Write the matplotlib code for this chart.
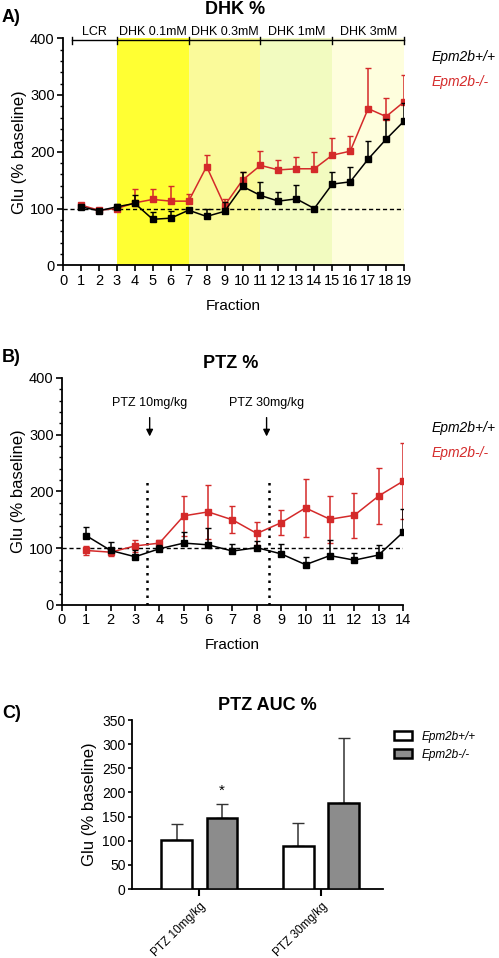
import numpy as np
import matplotlib
matplotlib.use("Agg")
import matplotlib.pyplot as plt
from matplotlib.ticker import MultipleLocator

plt.rcParams['font.family'] = ['Liberation Sans', 'DejaVu Sans']

RED = "#d42a2a"

# ---- panel A: DHK % ----
dhk_frac = np.arange(1, 20)
dhk_wt = [103, 96, 103, 109, 81, 83, 97, 86, 95, 139, 123, 113, 117, 100, 143, 147, 187, 222, 254]
dhk_wt_err = [4, 2, 5, 14, 12, 13, 3, 14, 16, 26, 23, 16, 24, 3, 21, 27, 32, 36, 31]
dhk_ko = [106, 97, 100, 110, 116, 113, 113, 174, 105, 150, 176, 168, 170, 170, 194, 201, 276, 262, 288]
dhk_ko_err = [2, 2, 2, 25, 19, 26, 13, 21, 11, 14, 26, 18, 21, 30, 30, 27, 71, 33, 48]
dhk_bounds = [0.5, 3, 7, 11, 15, 19]
dhk_labels = ["LCR", "DHK 0.1mM", "DHK 0.3mM", "DHK 1mM", "DHK 3mM"]
dhk_colors = [None, "#ffff33", "#fafa9a", "#f2fbc0", "#fefedd"]

# ---- panel B: PTZ % ----
ptz_frac = np.arange(1, 15)
ptz_wt = [122, 96, 85, 99, 109, 106, 95, 101, 90, 71, 87, 79, 88, 128]
ptz_wt_err = [15, 15, 12, 6, 19, 29, 12, 12, 17, 14, 28, 13, 18, 41]
ptz_ko = [96, 93, 104, 109, 157, 164, 150, 126, 145, 171, 151, 158, 192, 218]
ptz_ko_err = [8, 7, 10, 5, 35, 47, 24, 21, 22, 51, 41, 40, 50, 67]
ptz_lines = [3.5, 8.5]
ptz_arrows = [3.6, 8.4]
ptz_arrow_labels = ["PTZ 10mg/kg", "PTZ 30mg/kg"]

# ---- panel C: PTZ AUC % ----
auc_groups = ["PTZ 10mg/kg", "PTZ 30mg/kg"]
auc_wt = [101, 90]
auc_wt_err = [33, 47]
auc_ko = [148, 178]
auc_ko_err = [28, 135]

fig = plt.figure(figsize=(4.99, 9.58), dpi=100)
H = 958.0
W = 499.0


def style_axes(ax):
    for s in ["top", "right"]:
        ax.spines[s].set_visible(False)
    for s in ["left", "bottom"]:
        ax.spines[s].set_linewidth(1.3)
    ax.tick_params(direction="out", width=1.2, length=4, labelsize=10.5, pad=2)
    ax.tick_params(which="minor", direction="out", width=1.0, length=2.5)


def line_panel(ax, x, wt, wt_err, ko, ko_err, ko_both):
    ax.axhline(100, color="black", ls=(0, (3, 2)), lw=1.0, zorder=2)
    ax.errorbar(x, ko, yerr=[ko_err if ko_both else [0] * len(ko), ko_err],
                color=RED, ecolor=RED, lw=1.1, elinewidth=1.1, capsize=2.5,
                marker="s", ms=4, zorder=4)
    ax.errorbar(x, wt, yerr=[[0] * len(wt), wt_err], color="black", ecolor="black",
                lw=1.1, elinewidth=1.1, capsize=2.5, marker="s", ms=4, zorder=5)
    ax.set_ylim(0, 400)
    ax.yaxis.set_major_locator(MultipleLocator(100))
    ax.yaxis.set_minor_locator(MultipleLocator(20))
    ax.set_ylabel("Glu (% baseline)", fontsize=12, labelpad=2)
    ax.set_xlabel("Fraction", fontsize=11, labelpad=8)
    style_axes(ax)


# A
axA = fig.add_axes([0.1263, 0.7231, 0.6834, 0.2370])
for i in range(len(dhk_labels)):
    if dhk_colors[i]:
        axA.axvspan(dhk_bounds[i], dhk_bounds[i + 1], color=dhk_colors[i], lw=0, zorder=0)
line_panel(axA, dhk_frac, dhk_wt, dhk_wt_err, dhk_ko, dhk_ko_err, False)
axA.set_xlim(0, 19)
axA.set_xticks(range(0, 20))
axA.plot([dhk_bounds[0], dhk_bounds[-1]], [396, 396], color="black", lw=1.0, clip_on=False)
for b in dhk_bounds:
    axA.plot([b, b], [389, 403], color="black", lw=1.0, clip_on=False)
for i, lab in enumerate(dhk_labels):
    axA.text((dhk_bounds[i] + dhk_bounds[i + 1]) / 2, 400, lab, ha="center", va="bottom",
             fontsize=9)
fig.text(235 / W, 1 - 10 / H, "DHK %", fontsize=13, fontweight="bold", ha="center",
         va="center")

# B
axB = fig.add_axes([0.1242, 0.3685, 0.6834, 0.2370])
line_panel(axB, ptz_frac, ptz_wt, ptz_wt_err, ptz_ko, ptz_ko_err, True)
axB.set_xlim(0, 14)
axB.set_xticks(range(0, 15))
for xl in ptz_lines:
    axB.plot([xl, xl], [0, 220], color="black", ls=(0, (1, 2)), lw=1.8, zorder=3)
for xa, lab in zip(ptz_arrows, ptz_arrow_labels):
    axB.annotate("", xy=(xa, 292), xytext=(xa, 335),
                 arrowprops=dict(arrowstyle="-|>", color="black", lw=1.0,
                                 mutation_scale=10))
    axB.text(xa, 345, lab, ha="center", va="bottom", fontsize=9)
fig.text(231 / W, 1 - 363 / H, "PTZ %", fontsize=13, fontweight="bold", ha="center",
         va="center")

# legend texts A & B
for ytop, ybot in [(57, 82), (428, 453)]:
    fig.text(432 / W, 1 - ytop / H, "Epm2b+/+", style="italic", fontsize=10,
             color="black", va="center")
    fig.text(432 / W, 1 - ybot / H, "Epm2b-/-", style="italic", fontsize=10,
             color=RED, va="center")

# C
axC = fig.add_axes([0.2655, 0.0720, 0.502, 0.1764])
gx = np.arange(len(auc_groups))
w = 0.254
off = 0.186
axC.bar(gx - off, auc_wt, w, color="white", edgecolor="black", lw=1.8, zorder=3,
        label="Epm2b+/+")
axC.bar(gx + off, auc_ko, w, color="#8c8c8c", edgecolor="black", lw=1.8, zorder=3,
        label="Epm2b-/-")
axC.errorbar(gx - off, auc_wt, yerr=[[0, 0], auc_wt_err], fmt="none", ecolor="#333333",
             elinewidth=1.1, capsize=4, zorder=2)
axC.errorbar(gx + off, auc_ko, yerr=[[0, 0], auc_ko_err], fmt="none", ecolor="#333333",
             elinewidth=1.1, capsize=4, zorder=2)
axC.text(gx[0] + off, auc_ko[0] + auc_ko_err[0] + 12, "*", ha="center", va="bottom",
         fontsize=11)
axC.set_xlim(-0.55, 1.51)
axC.set_ylim(0, 350)
axC.yaxis.set_major_locator(MultipleLocator(50))
axC.set_xticks(gx)
axC.set_ylabel("Glu (% baseline)", fontsize=12, labelpad=4)
style_axes(axC)
axC.set_xticklabels(auc_groups, rotation=45, ha="right", rotation_mode="anchor",
                    fontsize=8.5)
axC.tick_params(axis="y", labelsize=10, length=3)
axC.tick_params(axis="x", length=5, width=1.5, pad=3)
fig.text(267 / W, 1 - 706 / H, "PTZ AUC %", fontsize=13, fontweight="bold", ha="center",
         va="center")
leg = axC.legend(loc="upper left", bbox_to_anchor=(1.0, 1.0), frameon=False,
                 prop={"style": "italic", "size": 8.5}, handlelength=1.6, handleheight=0.9)

# panel letters
fig.text(0.004, 1 - 18 / H, "A)", fontsize=13, fontweight="bold", va="center")
fig.text(0.004, 1 - 357 / H, "B)", fontsize=13, fontweight="bold", va="center")
fig.text(0.004, 1 - 713 / H, "C)", fontsize=13, fontweight="bold", va="center")

fig.savefig("out.png", dpi=100)
